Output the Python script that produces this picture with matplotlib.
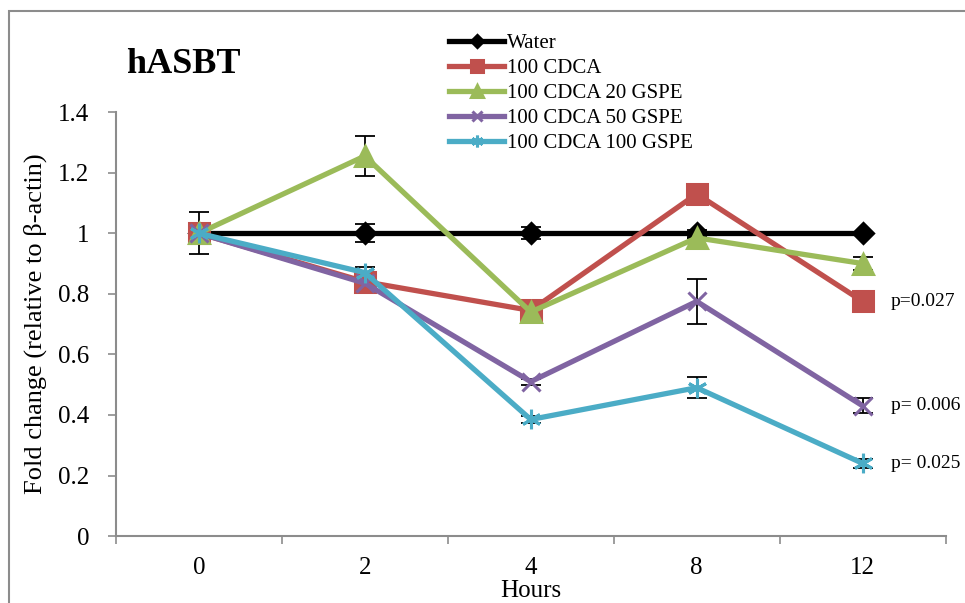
import numpy as np
import matplotlib.pyplot as plt
from matplotlib.patches import Rectangle

plt.rcParams['font.family'] = ['Liberation Serif', 'DejaVu Serif']

hours = ['0', '2', '4', '8', '12']
series_names = ['Water', '100 CDCA', '100 CDCA 20 GSPE', '100 CDCA 50 GSPE', '100 CDCA 100 GSPE']
water = [1.0, 1.0, 1.0, 1.0, 1.0]
water_err = [0.07, 0.03, 0.02, 0.01, 0.005]
cdca = [1.0, 0.84, 0.745, 1.13, 0.775]
cdca_err = [0.0, 0.0, 0.03, 0.0, 0.03]
gspe20 = [1.0, 1.255, 0.74, 0.985, 0.90]
gspe20_err = [0.0, 0.065, 0.0, 0.0, 0.02]
gspe50 = [1.0, 0.835, 0.51, 0.775, 0.43]
gspe50_err = [0.0, 0.0, 0.01, 0.075, 0.025]
gspe100 = [1.0, 0.87, 0.385, 0.49, 0.24]
gspe100_err = [0.0, 0.02, 0.01, 0.035, 0.015]
p_labels = ['p=0.027', 'p= 0.006', 'p= 0.025']
p_y = [0.775, 0.43, 0.24]

colors = ['#000000', '#C0504D', '#9BBB59', '#8064A2', '#4BACC6']
markers = ['D', 's', '^', 'x', (6, 2, 0)]
msizes = [10, 15, 15, 13, 14]

fig = plt.figure(figsize=(9.65, 6.03), dpi=100)
fig.patches.append(Rectangle((0.009, -0.1), 1.2, 1.081, transform=fig.transFigure,
                             fill=False, edgecolor='#8c8c8c', linewidth=1.5))
ax = fig.add_axes([0.120, 0.111, 0.860, 0.703])

x = np.arange(len(hours))
values = [water, cdca, gspe20, gspe50, gspe100]
errors = [water_err, cdca_err, gspe20_err, gspe50_err, gspe100_err]
for vals, errs, name, c, m, ms in zip(values, errors, series_names, colors, markers, msizes):
    ax.errorbar(x, vals, yerr=errs, fmt='none', ecolor='black', elinewidth=1.3,
                capsize=7, capthick=1.3, zorder=2)
    ax.plot(x, vals, color=c, lw=3.8, marker=m, markersize=ms, markeredgewidth=2.2,
            markeredgecolor=c, label=name, zorder=3, clip_on=False)

for lab, yv in zip(p_labels, p_y):
    ax.text(4.17, yv, lab, fontsize=14, va='center', ha='left')

ax.set_xlim(-0.5, 4.5)
ax.set_ylim(0, 1.4)
ax.set_yticks(np.arange(0, 1.41, 0.2))
ax.set_yticklabels(['0', '0.2', '0.4', '0.6', '0.8', '1', '1.2', '1.4'], fontsize=18)
ax.set_xticks(np.arange(-0.5, 4.6, 1.0))
ax.set_xticklabels([])
ax.set_xticks(x, minor=True)
ax.set_xticklabels(hours, minor=True, fontsize=18)
ax.tick_params(axis='x', which='major', length=6, color='#8c8c8c', width=1.2)
ax.tick_params(axis='x', which='minor', length=0, pad=15)
ax.tick_params(axis='y', length=6, color='#8c8c8c', width=1.2, pad=13)
for s in ['top', 'right']:
    ax.spines[s].set_visible(False)
for s in ['left', 'bottom']:
    ax.spines[s].set_color('#8c8c8c')
    ax.spines[s].set_linewidth(1.5)

ax.set_xlabel('Hours', fontsize=18, labelpad=1)
ax.set_ylabel('Fold change (relative to β-actin)', fontsize=19, labelpad=8)
fig.text(0.131, 0.893, 'hASBT', fontsize=26, fontweight='bold', va='center')

leg = ax.legend(loc='upper left', bbox_to_anchor=(0.392, 1.205), frameon=False,
                fontsize=15, handlelength=2.6, handletextpad=0.15, labelspacing=0.26,
                borderaxespad=0, markerscale=0.6)

fig.savefig('out.png', dpi=100)
